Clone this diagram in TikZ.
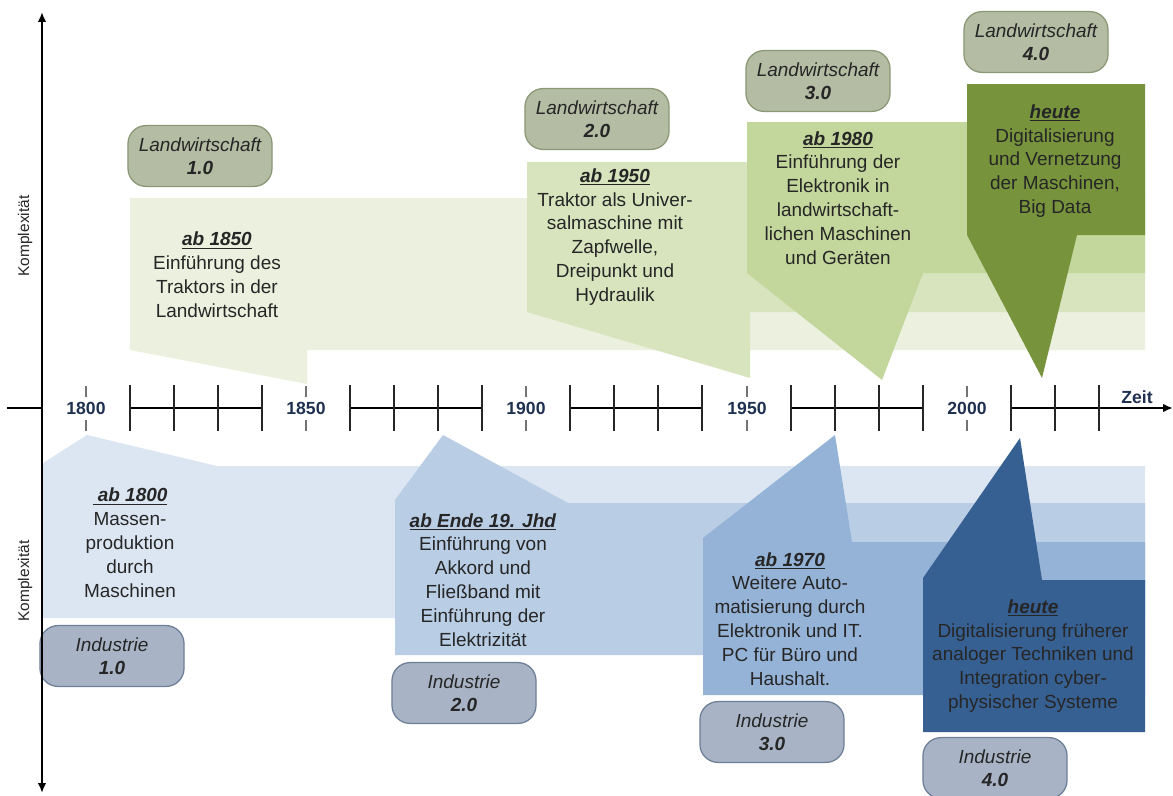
\documentclass[tikz,border=0pt]{standalone}
\usepackage{fontspec}
\setmainfont{Liberation Sans}
\usepackage{xcolor}
\usetikzlibrary{arrows.meta}

\definecolor{lwA}{HTML}{EBF1DE}
\definecolor{lwB}{HTML}{D7E4BD}
\definecolor{lwC}{HTML}{C3D69B}
\definecolor{lwD}{HTML}{77933C}
\definecolor{lwfill}{HTML}{B5BCA4}
\definecolor{lwline}{HTML}{8A9875}
\definecolor{inA}{HTML}{DCE6F2}
\definecolor{inB}{HTML}{B9CDE5}
\definecolor{inC}{HTML}{95B3D7}
\definecolor{inD}{HTML}{376092}
\definecolor{infill}{HTML}{A8B4C5}
\definecolor{inline}{HTML}{6E7F98}
\definecolor{txtgray}{HTML}{262626}
\definecolor{yearblue}{HTML}{1F3050}

\newcommand{\epochhead}[1]{\underline{\textbf{\textit{#1}}}}

\tikzset{
  lwbox/.style={draw=lwline, fill=lwfill, line width=0.9pt, rounded corners=0.45cm,
    minimum width=3.6cm, minimum height=1.52cm, align=center, font=\fontsize{13.5}{16.5}\selectfont\itshape, text=txtgray},
  inbox/.style={lwbox, draw=inline, fill=infill},
  desc/.style={align=center, text=txtgray, font=\fontsize{13.5}{17}\selectfont},
  year/.style={text=yearblue, font=\fontsize{12.5}{14}\selectfont\bfseries},
  axis/.style={line width=1.4pt, black},
  seg/.style={line width=2pt, black},
  longtick/.style={line width=1.2pt, black!85},
  yeartick/.style={line width=1pt, black!55},
  komplex/.style={rotate=90, text=txtgray, font=\fontsize{11}{12}\selectfont}
}

\begin{document}
\begin{tikzpicture}[x=0.025cm, y=-0.025cm]
\useasboundingbox (0,0) rectangle (1173,796);

% Landwirtschaft
\fill[lwA] (130,198) -- (1145,198) -- (1145,350) -- (307,350) -- (307,384) -- (130,350) -- cycle;
\fill[lwB] (527,162) -- (1145,162) -- (1145,312) -- (750,312) -- (750,378) -- (527,312) -- cycle;
\fill[lwC] (747,122) -- (1145,122) -- (1145,273) -- (923,273) -- (882,380) -- (747,273) -- cycle;
\fill[lwD] (967,84) -- (1145,84) -- (1145,235) -- (1077,235) -- (1042,378) -- (967,235) -- cycle;

% Industrie
\fill[inA] (43,463) -- (87,435) -- (217,466) -- (1145,466) -- (1145,618) -- (43,618) -- cycle;
\fill[inB] (395,655) -- (395,500) -- (443,435) -- (568,503) -- (1145,503) -- (1145,655) -- cycle;
\fill[inC] (703,695) -- (703,538) -- (835,435) -- (852,542) -- (1145,542) -- (1145,695) -- cycle;
\fill[inD] (923,732) -- (923,578) -- (1020,438) -- (1042,580) -- (1145,580) -- (1145,732) -- cycle;

\node[lwbox] (lw1) at (200,156) {Landwirtschaft\\\textbf{1.0}};
\node[lwbox] (lw2) at (597,119) {Landwirtschaft\\\textbf{2.0}};
\node[lwbox] (lw3) at (818,81) {Landwirtschaft\\\textbf{3.0}};
\node[lwbox] (lw4) at (1036,42) {Landwirtschaft\\\textbf{4.0}};

\node[inbox] (in1) at (112,656) {Industrie\\\textbf{1.0}};
\node[inbox] (in2) at (464,693) {Industrie\\\textbf{2.0}};
\node[inbox] (in3) at (772,732) {Industrie\\\textbf{3.0}};
\node[inbox] (in4) at (995,768) {Industrie\\\textbf{4.0}};

\node[desc] (lw1text) at (217,275) {\epochhead{ab 1850}\\Einführung des\\Traktors in der\\Landwirtschaft};
\node[desc] (lw2text) at (615,237) {\epochhead{ab 1950}\\Traktor als Univer-\\salmaschine mit\\Zapfwelle,\\Dreipunkt und\\Hydraulik};
\node[desc] (lw3text) at (838,198) {\epochhead{ab 1980}\\Einführung der\\Elektronik in\\landwirtschaft-\\lichen Maschinen\\und Geräten};
\node[desc] (lw4text) at (1055,161) {\epochhead{heute}\\Digitalisierung\\und Vernetzung\\der Maschinen,\\Big Data};

\node[desc] (in1text) at (130,543) {\epochhead{\ ab 1800}\\Massen-\\produktion\\durch\\Maschinen};
\node[desc] (in2text) at (483,580) {\epochhead{ab Ende 19. Jhd}\\Einführung von\\Akkord und\\Fließband mit\\Einführung der\\Elektrizität};
\node[desc] (in3text) at (790,619) {\epochhead{ab 1970}\\Weitere Auto-\\matisierung durch\\Elektronik und IT.\\PC für Büro und\\Haushalt.};
\node[desc] (in4text) at (1033,656) {\epochhead{heute}\\Digitalisierung früherer\\analoger Techniken und\\Integration cyber-\\physischer Systeme};

% Achsen
\coordinate (ytop) at (42,12);
\coordinate (ybot) at (42,793);
\coordinate (xleft) at (7,408);
\coordinate (xright) at (1173,408);
\draw[axis, {Latex[length=7pt,width=6pt]}-{Latex[length=7pt,width=6pt]}] (ybot) -- (ytop);
\draw[seg] (xleft) -- (42,408);
\foreach \y in {86,306,526,747} {
  \draw[seg] (\y+44,408) -- (\y+176,408);
  \foreach \k in {44,88,132,176}
    \draw[longtick] (\y+\k,385) -- (\y+\k,431);
}
\draw[seg, -{Latex[length=7pt,width=6pt]}] (1011,408) -- (xright);
\foreach \k in {1011,1055,1099}
  \draw[longtick] (\k,385) -- (\k,431);
\foreach \y/\yr in {86/1800, 306/1850, 526/1900, 747/1950, 967/2000} {
  \draw[yeartick] (\y,386) -- (\y,397);
  \draw[yeartick] (\y,420) -- (\y,431);
  \node[year] (y\yr) at (\y,408) {\yr};
}
\node[year] (zeit) at (1137,397) {Zeit};

\node[komplex] (komplexup) at (25,236) {Komplexität};
\node[komplex] (komplexdown) at (25,581) {Komplexität};
\end{tikzpicture}
\end{document}
